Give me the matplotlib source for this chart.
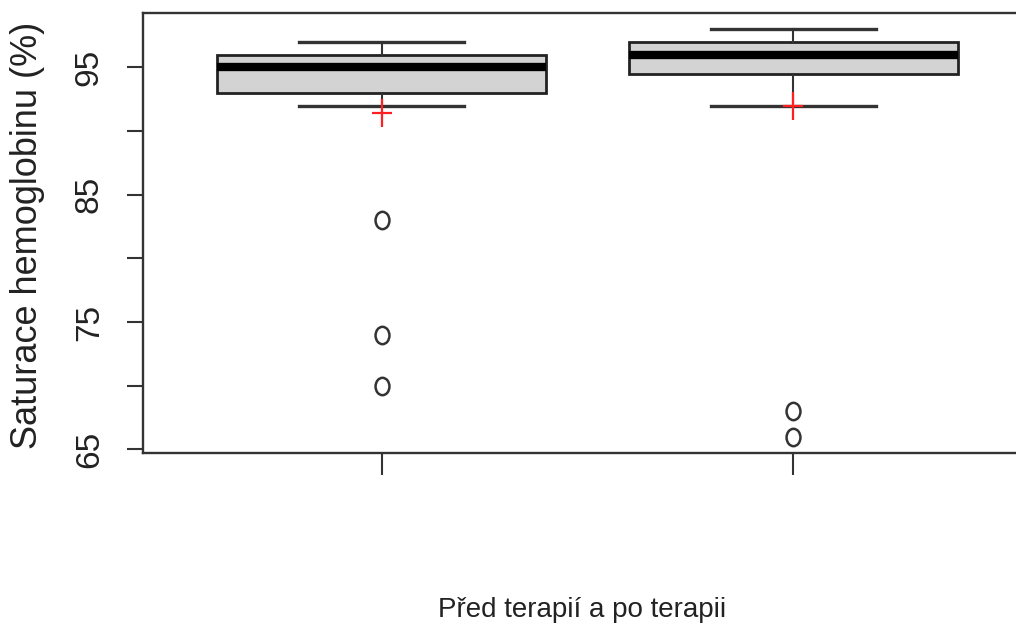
import matplotlib
matplotlib.use("Agg")
import matplotlib.pyplot as plt
from matplotlib.path import Path

# Summary statistics of haemoglobin saturation (%) before and after therapy
groups = ["Před terapií", "Po terapii"]
whisker_low = [92, 92]
q1 = [93, 94.5]
medians = [95, 96]
q3 = [96, 97]
whisker_high = [97, 98]
outliers = [[83, 74, 70], [68, 66]]
means = [91.4, 92]

ytick_values = [65, 70, 75, 80, 85, 90, 95]
ytick_labels = ["65", "", "75", "", "85", "", "95"]
xlabel = "Před terapií a po terapii"
ylabel = "Saturace hemoglobinu (%)"

plt.rcParams["font.family"] = ["Liberation Sans", "DejaVu Sans"]

fig = plt.figure(figsize=(10.16, 6.33), dpi=100)
ax = fig.add_axes([0.1407, 0.2844, 0.875, 0.6951])

stats = []
for i, g in enumerate(groups):
    stats.append(dict(label=g, whislo=whisker_low[i], q1=q1[i], med=medians[i],
                      q3=q3[i], whishi=whisker_high[i], fliers=outliers[i]))

# Slightly tall open ellipse for the outlying values
circ = Path.unit_circle()
oval = Path(circ.vertices * [0.8, 1.0], circ.codes)

line_col = "#333333"
ax.bxp(stats, positions=[1, 2], widths=0.8, patch_artist=True, showfliers=True,
       boxprops=dict(facecolor="#d3d3d3", edgecolor="#222222", linewidth=2.0),
       medianprops=dict(color="black", linewidth=6, solid_capstyle="butt"),
       whiskerprops=dict(color=line_col, linewidth=1.5),
       capprops=dict(color=line_col, linewidth=2.4),
       capwidths=0.4,
       flierprops=dict(marker=oval, markerfacecolor="none", markeredgecolor=line_col,
                       markeredgewidth=1.8, markersize=12.5))

# Group means drawn as red crosses (slightly taller than wide)
cross = Path([(-0.36, 0), (0.36, 0), (0, -0.5), (0, 0.5)],
             [Path.MOVETO, Path.LINETO, Path.MOVETO, Path.LINETO])
ax.plot([1, 2], means, linestyle="none", marker=cross, markersize=20,
        markeredgecolor="#ff2020", markeredgewidth=1.6)

ax.set_xlim(0.42, 2.58)
ax.set_ylim(64.72, 99.28)

ax.set_xticks([1, 2])
ax.set_xticklabels(["", ""])
ax.set_yticks(ytick_values)
ax.set_yticklabels(ytick_labels, rotation=90, va="center", fontsize=24, color="#222222")
ax.tick_params(axis="y", length=11.5, width=1.5, color=line_col, pad=16)
ax.tick_params(axis="x", length=16, width=1.5, color=line_col)

for side in ["left", "top", "bottom", "right"]:
    ax.spines[side].set_color(line_col)
    ax.spines[side].set_linewidth(1.7)

ax.set_ylabel(ylabel, fontsize=26, color="#222222")
ax.yaxis.set_label_coords(-0.130, 0.495)
ax.yaxis.label.set_va("center")

ax.set_xlabel(xlabel, fontsize=20, color="#222222")
ax.xaxis.set_label_coords(0.494, -0.357)
ax.xaxis.label.set_va("center")

fig.savefig("out.png", dpi=100)
